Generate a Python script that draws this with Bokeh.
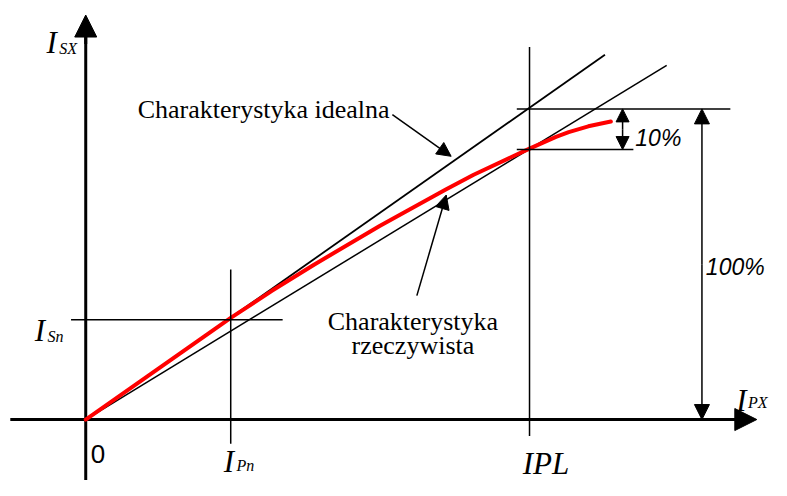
from bokeh.plotting import figure
from bokeh.models import Arrow, NormalHead, Range1d
from bokeh.core.properties import value
from bokeh.embed import file_html
from bokeh.resources import INLINE

# ---- data (diagram units: origin at the axes crossing) ----
ideal_x = [0, 530]
ideal_y = [0, 377]
lower_x = [0, 593]
lower_y = [0, 366]
real_x = [0, 148, 190, 233, 300, 368, 396, 453, 480, 493, 513, 536]
real_y = [0, 105, 133, 160, 200, 238, 253, 280, 292, 297, 303, 308]
I_Pn = 148
I_Sn = 103
IPL = 453
ideal_at_IPL = 321
real_at_IPL = 279
x_axis_end = 685
y_axis_end = 418

serif = value("Liberation Serif")
sans = value("Liberation Sans")

p = figure(width=771, height=480, output_backend="svg", toolbar_location=None,
           x_range=Range1d(-87, 700), y_range=Range1d(-63, 433), min_border=0)
p.axis.visible = False
p.xgrid.visible = False
p.ygrid.visible = False
p.outline_line_color = None
p.background_fill_color = "white"

def arrow(x0, y0, x1, y1, w=1.5, size=14):
    p.add_layout(Arrow(end=NormalHead(size=size, fill_color="black", line_color="black", line_width=1),
                       x_start=x0, y_start=y0, x_end=x1, y_end=y1,
                       line_width=w, line_color="black"))

# axes
p.line([-77, x_axis_end - 15], [0, 0], line_color="black", line_width=3)
p.line([0, 0], [-63, y_axis_end - 15], line_color="black", line_width=3)
arrow(x_axis_end - 30, 0, x_axis_end, 0, w=3, size=22)
arrow(0, y_axis_end - 30, 0, y_axis_end, w=3, size=22)

# characteristic lines
p.line(ideal_x, ideal_y, line_color="black", line_width=1.8)
p.line(lower_x, lower_y, line_color="black", line_width=1.5)
p.line(real_x, real_y, line_color="#ff0000", line_width=4, line_join="round", line_cap="round")

# guide lines
p.line([-15, 201], [I_Sn, I_Sn], line_color="black", line_width=1.5)
p.line([I_Pn, I_Pn], [-25, 155], line_color="black", line_width=1.5)
p.line([IPL, IPL], [-17, 385], line_color="black", line_width=1.5)
p.line([440, 658], [ideal_at_IPL, ideal_at_IPL], line_color="black", line_width=1.5)
p.line([440, 559], [real_at_IPL, real_at_IPL], line_color="black", line_width=1.5)

# 10% double arrow
mid10 = (ideal_at_IPL + real_at_IPL) / 2
arrow(548, mid10, 548, ideal_at_IPL, w=1.5, size=13)
arrow(548, mid10, 548, real_at_IPL, w=1.5, size=13)
# 100% double arrow
mid100 = ideal_at_IPL / 2
arrow(629, mid100, 629, ideal_at_IPL, w=1.5, size=15)
arrow(629, mid100, 629, 0, w=1.5, size=15)

# annotation arrows
arrow(313, 315, 373, 272, w=1.5, size=14)
arrow(338, 128, 368, 232, w=1.5, size=14)

def txt(x, y, s, size, font=serif, style="italic", align="left"):
    p.text(x=[x], y=[y], text=[s], text_font=font, text_font_style=style,
           text_font_size=size, text_align=align, text_baseline="alphabetic", text_color="black")

# axis labels
txt(-40, 390, "I", "31px")
txt(-27, 383, "SX", "16px")
txt(-52, 92, "I", "31px")
txt(-39, 86, "Sn", "16px")
txt(141, -43, "I", "31px")
txt(154, -48, "Pn", "16px")
txt(664, 20, "I", "31px")
txt(676, 18, "PX", "16px")
txt(446, -45, "IPL", "31px")
txt(5, -36, "0", "26px", font=sans, style="normal")

# percentage labels
txt(561, 291, "10%", "23px", font=sans)
txt(633, 158, "100%", "23px", font=sans)

# descriptions
txt(53, 320, "Charakterystyka idealna", "26px", style="normal")
txt(334, 101, "Charakterystyka", "26px", style="normal", align="center")
txt(334, 76, "rzeczywista", "26px", style="normal", align="center")

open("out.html", "w").write(file_html(p, INLINE))
